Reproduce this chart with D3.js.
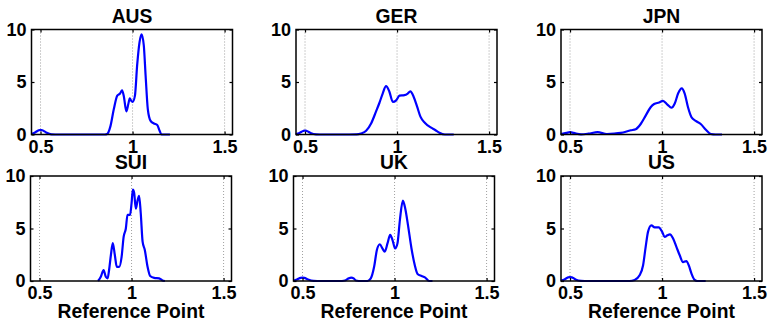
<!DOCTYPE html>
<html lang="en">
<head>
    <meta charset="UTF-8">
    <title>Reference Point densities</title>
    <script src="https://d3js.org/d3.v7.min.js"></script>
    <style>
        body { margin: 0; background: #fff; }
        svg { display: block; font-family: "Liberation Sans", Arial, sans-serif; font-weight: bold; }
        .grid line { stroke: #a0a0a0; stroke-width: 1; stroke-dasharray: 1,2; }
        .curve { fill: none; stroke: #0000ff; stroke-width: 2.2; }
        .box { fill: none; stroke: #000; stroke-width: 1.5; }
    </style>
</head>
<body>
    <svg width="768" height="321"></svg>

    <script>
        const countries = ["AUS", "GER", "JPN", "SUI", "UK", "US"];
        const xTicks = [0.5, 1, 1.5];
        const yTicks = [0, 5, 10];
        const xLabel = "Reference Point";

        const ausX = [0.45, 0.47, 0.49, 0.5, 0.51, 0.53, 0.56, 0.6, 0.7, 0.8, 0.85, 0.862, 0.88, 0.898, 0.917, 0.932, 0.943, 0.953, 0.966, 0.977, 0.985, 0.993, 1.0, 1.013, 1.025, 1.038, 1.049, 1.061, 1.071, 1.083, 1.098, 1.116, 1.134, 1.147, 1.157, 1.203];
        const ausY = [0.05, 0.2, 0.4, 0.45, 0.4, 0.2, 0.02, 0, 0, 0, 0, 0.05, 0.8, 2.4, 3.7, 3.9, 4.2, 3.6, 2.2, 2.9, 3.45, 3.2, 3.1, 3.7, 6.6, 8.8, 9.55, 8.5, 5.6, 2.4, 1.3, 1.05, 0.9, 0.35, 0, 0];

        const gerX = [0.45, 0.47, 0.49, 0.5, 0.51, 0.53, 0.56, 0.6, 0.7, 0.78, 0.804, 0.832, 0.859, 0.886, 0.904, 0.922, 0.94, 0.958, 0.977, 0.995, 1.013, 1.04, 1.058, 1.072, 1.09, 1.109, 1.127, 1.152, 1.185, 1.207, 1.23, 1.26, 1.308];
        const gerY = [0.02, 0.15, 0.33, 0.38, 0.33, 0.15, 0.02, 0, 0, 0.02, 0.1, 0.35, 1.05, 2.2, 3.0, 3.9, 4.6, 4.1, 3.1, 3.25, 3.7, 3.75, 3.9, 4.1, 3.6, 2.65, 1.7, 1.1, 0.65, 0.43, 0.17, 0, 0];

        const jpnX = [0.45, 0.48, 0.5, 0.52, 0.56, 0.6, 0.65, 0.7, 0.74, 0.776, 0.83, 0.857, 0.884, 0.911, 0.938, 0.957, 0.984, 1.005, 1.029, 1.051, 1.069, 1.087, 1.107, 1.123, 1.141, 1.16, 1.183, 1.21, 1.238, 1.265, 1.29, 1.326];
        const jpnY = [0.05, 0.15, 0.22, 0.15, 0.02, 0.08, 0.22, 0.05, 0.08, 0.15, 0.4, 0.5, 1.0, 1.8, 2.6, 2.9, 3.05, 3.2, 2.85, 2.55, 2.95, 3.9, 4.4, 3.9, 2.6, 1.65, 1.3, 1.0, 0.45, 0.05, 0, 0];

        const suiX = [0.818, 0.833, 0.848, 0.86, 0.87, 0.878, 0.888, 0.898, 0.909, 0.92, 0.933, 0.946, 0.957, 0.969, 0.978, 0.992, 1.0, 1.007, 1.014, 1.023, 1.033, 1.041, 1.05, 1.06, 1.072, 1.087, 1.101, 1.123, 1.15, 1.168, 1.181];
        const suiY = [0, 0.4, 1.05, 0.4, 0.25, 1.05, 2.5, 3.6, 2.5, 1.35, 1.35, 2.3, 4.2, 5.0, 6.3, 6.3, 7.4, 8.7, 8.4, 6.9, 7.7, 8.1, 6.45, 3.75, 2.95, 1.35, 0.48, 0.3, 0.25, 0.05, 0];

        const ukX = [0.45, 0.47, 0.49, 0.5, 0.51, 0.53, 0.56, 0.6, 0.7, 0.73, 0.75, 0.764, 0.778, 0.79, 0.82, 0.853, 0.871, 0.889, 0.904, 0.92, 0.934, 0.947, 0.962, 0.976, 0.989, 1.003, 1.016, 1.029, 1.045, 1.058, 1.074, 1.092, 1.11, 1.125, 1.147, 1.165, 1.188, 1.206];
        const ukY = [0.02, 0.15, 0.3, 0.33, 0.3, 0.15, 0.02, 0, 0, 0.05, 0.25, 0.33, 0.25, 0.05, 0, 0, 0.25, 1.35, 2.95, 3.5, 3.1, 2.8, 3.6, 4.4, 3.9, 3.1, 3.6, 5.8, 7.65, 6.9, 5.2, 3.1, 1.5, 0.67, 0.48, 0.35, 0, 0];

        const usX = [0.45, 0.47, 0.49, 0.5, 0.51, 0.53, 0.56, 0.6, 0.7, 0.8, 0.823, 0.851, 0.878, 0.897, 0.911, 0.924, 0.942, 0.96, 0.982, 1.0, 1.014, 1.029, 1.043, 1.06, 1.078, 1.096, 1.114, 1.132, 1.145, 1.16, 1.177, 1.19, 1.237];
        const usY = [0.02, 0.15, 0.35, 0.38, 0.35, 0.15, 0.02, 0, 0, 0, 0, 0.1, 0.55, 1.5, 3.25, 4.7, 5.3, 5.1, 5.1, 4.7, 4.2, 4.35, 4.45, 4.05, 3.25, 2.45, 1.8, 1.9, 1.5, 0.7, 0.1, 0, 0];

        const seriesX = [ausX, gerX, jpnX, suiX, ukX, usX];
        const seriesY = [ausY, gerY, jpnY, suiY, ukY, usY];

        // panel placement (left, top) in px
        const lefts = [31.5, 296, 561, 30.5, 293.5, 561];
        const tops = [29.5, 29.5, 29.5, 176, 176, 176];
        const pw = 201, ph = 105, tickLen = 3;

        const svg = d3.select("svg");

        countries.forEach((name, i) => {
            const g = svg.append("g").attr("transform", `translate(${lefts[i]},${tops[i]})`);
            const x = d3.scaleLinear().domain([0.451, 1.543]).range([0, pw]);
            const y = d3.scaleLinear().domain([0, 10]).range([ph, 0]);

            // dotted x grid
            g.append("g").attr("class", "grid")
                .selectAll("line").data(xTicks).join("line")
                .attr("x1", d => x(d)).attr("x2", d => x(d))
                .attr("y1", 0).attr("y2", ph);

            const line = d3.line()
                .x((d, k) => x(seriesX[i][k]))
                .y(d => y(d))
                .curve(d3.curveMonotoneX);
            g.append("path").attr("class", "curve").attr("d", line(seriesY[i]));

            // box with inward ticks on all sides
            g.append("rect").attr("class", "box").attr("width", pw).attr("height", ph);

            const bottom = g.append("g").attr("transform", `translate(0,${ph})`)
                .call(d3.axisBottom(x).tickValues(xTicks).tickSize(-tickLen).tickPadding(5.5).tickFormat(d3.format("")));
            const top = g.append("g")
                .call(d3.axisTop(x).tickValues(xTicks).tickSize(-tickLen).tickFormat(""));
            const left = g.append("g")
                .call(d3.axisLeft(y).tickValues(yTicks).tickSize(-tickLen).tickPadding(5).tickFormat(d3.format("")));
            const right = g.append("g").attr("transform", `translate(${pw},0)`)
                .call(d3.axisRight(y).tickValues(yTicks).tickSize(-tickLen).tickFormat(""));

            [bottom, top, left, right].forEach(a => {
                a.select(".domain").remove();
                a.selectAll(".tick line").attr("stroke", "#000").attr("stroke-width", 1.2);
                a.selectAll("text").attr("fill", "#000").style("font-size", "18px")
                    .style("font-family", "'Liberation Sans', Arial, sans-serif").style("font-weight", "bold");
            });
            bottom.selectAll("text").attr("dy", "0.71em");

            g.append("text")
                .attr("x", pw / 2).attr("y", -7)
                .attr("text-anchor", "middle")
                .style("font-size", "19.3px")
                .text(name);

            if (i >= 3) {
                g.append("text")
                    .attr("x", pw / 2).attr("y", ph + 37)
                    .attr("text-anchor", "middle")
                    .style("font-size", "19.3px")
                    .text(xLabel);
            }
        });
    </script>
</body>
</html>
